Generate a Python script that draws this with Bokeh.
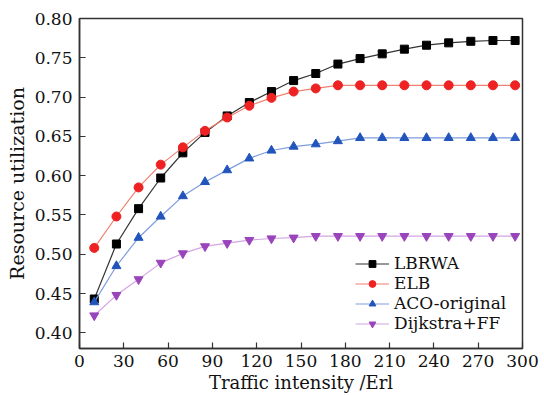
from bokeh.plotting import figure
from bokeh.models import Legend, LegendItem, FixedTicker, Range1d
from bokeh.embed import file_html
from bokeh.resources import INLINE

traffic = [10, 25, 40, 55, 70, 85, 100, 115, 130, 145, 160, 175, 190, 205, 220, 235, 250, 265, 280, 295]
lbrwa = [0.443, 0.513, 0.558, 0.597, 0.629, 0.655, 0.676, 0.693, 0.707, 0.721, 0.730, 0.742, 0.749, 0.755, 0.761, 0.766, 0.769, 0.771, 0.772, 0.772]
elb = [0.508, 0.548, 0.585, 0.614, 0.636, 0.657, 0.674, 0.689, 0.699, 0.707, 0.711, 0.715, 0.715, 0.715, 0.715, 0.715, 0.715, 0.715, 0.715, 0.715]
aco = [0.439, 0.485, 0.521, 0.548, 0.574, 0.592, 0.607, 0.622, 0.632, 0.637, 0.640, 0.644, 0.648, 0.648, 0.648, 0.648, 0.648, 0.648, 0.648, 0.648]
dijkstra = [0.422, 0.448, 0.468, 0.489, 0.501, 0.510, 0.514, 0.518, 0.520, 0.521, 0.523, 0.523, 0.523, 0.523, 0.523, 0.523, 0.523, 0.523, 0.523, 0.523]
names = ["LBRWA", "ELB", "ACO-original", "Dijkstra+FF"]
x_ticks = [0, 30, 60, 90, 120, 150, 180, 210, 240, 270, 300]
y_ticks = [0.40, 0.45, 0.50, 0.55, 0.60, 0.65, 0.70, 0.75, 0.80]

FONT = "DejaVu Serif"

p = figure(width=544, height=395, output_backend="svg", toolbar_location=None,
           x_range=Range1d(0, 300), y_range=Range1d(0.38, 0.80),
           min_border_left=79, min_border_right=22, min_border_top=18, min_border_bottom=47)
p.grid.visible = False
p.outline_line_color = "#333333"
p.outline_line_width = 1.5

series = [
    (lbrwa, "#000000", "#333333", "square", 8),
    (elb, "#ee2222", "#f08070", "circle", 9),
    (aco, "#2255bb", "#7f9ddc", "triangle", 9),
    (dijkstra, "#9944bb", "#d4a4e4", "inverted_triangle", 9),
]
items = []
for (vals, mc, lc, mk, sz), nm in zip(series, names):
    r1 = p.line(traffic, vals, line_color=lc, line_width=1.2)
    r2 = p.scatter(traffic, vals, marker=mk, size=sz, fill_color=mc, line_color=mc)
    items.append(LegendItem(label=nm, renderers=[r1, r2]))

legend = Legend(items=items, location=(276, 15), border_line_color=None,
                background_fill_alpha=0, label_text_font=FONT, label_text_font_size="17px",
                label_text_color="#111111",
                glyph_width=34, glyph_height=17, label_height=17, spacing=0, padding=2, margin=0,
                label_standoff=5)
p.add_layout(legend, "center")

for ax in (p.xaxis[0], p.yaxis[0]):
    ax.major_label_text_font = FONT
    ax.major_label_text_font_size = "17px"
    ax.major_label_text_color = "#111111"
    ax.axis_label_text_font = FONT
    ax.axis_label_text_font_style = "normal"
    ax.axis_label_text_color = "#111111"
    ax.major_tick_in = 6
    ax.major_tick_out = 0
    ax.minor_tick_in = 0
    ax.minor_tick_out = 0
    ax.axis_line_color = "#333333"
    ax.axis_line_width = 1.5
    ax.major_tick_line_color = "#333333"
    ax.major_tick_line_width = 1.2

p.xaxis.axis_label_text_font_size = "18px"
p.yaxis.axis_label_text_font_size = "19px"
p.xaxis.ticker = FixedTicker(ticks=x_ticks)
p.yaxis.ticker = FixedTicker(ticks=y_ticks)
p.yaxis.major_label_overrides = {t: f"{t:.2f}" for t in y_ticks}
p.xaxis.axis_label = "Traffic intensity /Erl"
p.yaxis.axis_label = "Resource utilization"
p.xaxis.major_label_standoff = 6
p.xaxis.axis_label_standoff = 2
p.yaxis.major_label_standoff = 7
p.yaxis.axis_label_standoff = 4

open("out.html", "w").write(file_html(p, INLINE))
